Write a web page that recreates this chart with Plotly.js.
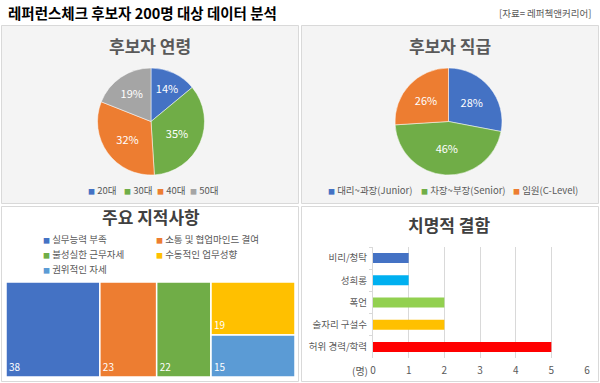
<!DOCTYPE html>
<html>
<head>
<meta charset="utf-8">
<script src="https://cdn.plot.ly/plotly-3.0.1.min.js"></script>
<style>html,body{margin:0;padding:0;background:#fff;}#chart{width:600px;height:383px;}</style>
</head>
<body>
<div id="chart"></div>
<script>
// ---- data ----
const ageLabels = ['20대', '30대', '40대', '50대'];
const ageValues = [14, 35, 32, 19];
const levelLabels = ['대리~과장(Junior)', '차장~부장(Senior)', '임원(C-Level)'];
const levelValues = [28, 46, 26];
const issueLabels = ['실무능력 부족', '소통 및 협업마인드 결여', '불성실한 근무자세', '수동적인 업무성향', '권위적인 자세'];
const issueValues = [38, 23, 22, 19, 15];
const defectLabels = ['비리/청탁', '성희롱', '폭언', '술자리 구설수', '허위 경력/학력'];
const defectValues = [1, 1, 2, 2, 5];
const defectUnit = '(명)';
const mainTitle = '레퍼런스체크 후보자 200명 대상 데이터 분석';
const sourceText = '[자료= 레퍼첵앤커리어]';
const panelTitles = ['후보자 연령', '후보자 직급', '주요 지적사항', '치명적 결함'];

// ---- styles ----
const ageColors = ['#4472C4', '#70AD47', '#ED7D31', '#A5A5A5'];
const levelColors = ['#4472C4', '#70AD47', '#ED7D31'];
const issueColors = ['#4472C4', '#ED7D31', '#70AD47', '#FFC000', '#5B9BD5'];
const defectColors = ['#4472C4', '#00B0F0', '#92D050', '#FFC000', '#FF0000'];
const FONT = '"Noto Sans CJK KR", "Noto Sans", sans-serif';
const W = 600, H = 383;
const px = x => x / W;
const py = y => 1 - y / H;

// ---- traces ----
const pieAge = {
  type: 'pie', labels: ageLabels, values: ageValues, sort: false,
  direction: 'clockwise', rotation: 0,
  marker: {colors: ageColors, line: {color: '#ffffff', width: 0.5}},
  textinfo: 'percent', textposition: 'inside', insidetextorientation: 'horizontal',
  textfont: {color: '#ffffff', size: 11, family: FONT},
  domain: {x: [px(97.5), px(204.5)], y: [py(175), py(68)]},
  showlegend: false, hoverinfo: 'label+percent'
};
const pieLevel = {
  type: 'pie', labels: levelLabels, values: levelValues, sort: false,
  direction: 'clockwise', rotation: 0,
  marker: {colors: levelColors, line: {color: '#ffffff', width: 0.5}},
  textinfo: 'percent', textposition: 'inside', insidetextorientation: 'horizontal',
  textfont: {color: '#ffffff', size: 11, family: FONT},
  domain: {x: [px(395), px(502)], y: [py(175), py(68)]},
  showlegend: false, hoverinfo: 'label+percent'
};

// treemap: first three items side by side, last two stacked in a final column
const tmIds = ['i0', 'i1', 'i2', 'g', 'i3', 'i4'];
const tmLabels = [issueLabels[0], issueLabels[1], issueLabels[2], ' ', issueLabels[3], issueLabels[4]];
const tmParents = ['', '', '', '', 'g', 'g'];
const tmValues = [issueValues[0], issueValues[1], issueValues[2], 0, issueValues[3], issueValues[4]];
const tmColors = [issueColors[0], issueColors[1], issueColors[2], '#ffffff', issueColors[3], issueColors[4]];
const tmText = [String(issueValues[0]), String(issueValues[1]), String(issueValues[2]), '', String(issueValues[3]), String(issueValues[4])];
const treemap = {
  type: 'treemap', ids: tmIds, labels: tmLabels, parents: tmParents, values: tmValues,
  text: tmText, texttemplate: '%{text}', textposition: 'bottom left',
  textfont: {color: '#ffffff', size: 10, family: FONT},
  sort: false, branchvalues: 'remainder',
  tiling: {packing: 'slice-dice', pad: 0},
  pathbar: {visible: false},
  marker: {colors: tmColors, line: {color: '#ffffff', width: 1.5}, pad: {t: 0, l: 0, r: 0, b: 0}},
  domain: {x: [px(6), px(295)], y: [py(377), py(282)]},
  hoverinfo: 'label+value'
};

const bars = {
  type: 'bar', orientation: 'h', y: defectLabels, x: defectValues,
  marker: {color: defectColors}, width: 0.45,
  xaxis: 'x', yaxis: 'y', showlegend: false, hoverinfo: 'y+x'
};

// ---- legends drawn as annotations ----
function legendItem(label, color, x, y) {
  return {
    xref: 'paper', yref: 'paper', x: px(x), y: py(y), xanchor: 'left', yanchor: 'middle',
    showarrow: false, align: 'left',
    text: '<span style="color:' + color + ';font-size:7px">■</span> ' + label,
    font: {family: FONT, size: 9.5, color: '#595959'}
  };
}
const ageLegX = [86, 122, 155, 188];
const levelLegX = [326, 419, 511];
const issueLegPos = [[41, 239], [154, 239], [41, 254], [154, 254], [41, 269]];

const annotations = [];
ageLabels.forEach((l, i) => annotations.push(legendItem(l, ageColors[i], ageLegX[i], 190)));
levelLabels.forEach((l, i) => annotations.push(legendItem(l, levelColors[i], levelLegX[i], 190)));
issueLabels.forEach((l, i) => annotations.push(legendItem(l, issueColors[i], issueLegPos[i][0], issueLegPos[i][1])));

function titleAnn(text, x, y, color) {
  return {xref: 'paper', yref: 'paper', x: px(x), y: py(y), xanchor: 'center', yanchor: 'middle',
    showarrow: false, text: '<b>' + text + '</b>', font: {family: FONT, size: 17, color: color}};
}
annotations.push(titleAnn(panelTitles[0], 150, 45.5, '#595959'));
annotations.push(titleAnn(panelTitles[1], 450, 45.5, '#595959'));
annotations.push(titleAnn(panelTitles[2], 151, 216.5, '#404040'));
annotations.push(titleAnn(panelTitles[3], 449, 224, '#404040'));
annotations.push({xref: 'paper', yref: 'paper', x: px(6), y: py(12.5), xanchor: 'left', yanchor: 'middle',
  showarrow: false, text: '<b>' + mainTitle + '</b>', font: {family: FONT, size: 14.5, color: '#000000'}});
annotations.push({xref: 'paper', yref: 'paper', x: px(593), y: py(13), xanchor: 'right', yanchor: 'middle',
  showarrow: false, text: sourceText, font: {family: FONT, size: 9.5, color: '#595959'}});
annotations.push({xref: 'paper', yref: 'paper', x: px(360), y: py(370), xanchor: 'center', yanchor: 'middle',
  showarrow: false, text: defectUnit, font: {family: FONT, size: 10, color: '#595959'}});

// ---- panels ----
function rect(x0, y0, x1, y1, fill) {
  return {type: 'rect', xref: 'paper', yref: 'paper', x0: px(x0), x1: px(x1), y0: py(y1), y1: py(y0),
    fillcolor: fill, line: {color: '#d9d9d9', width: 1}, layer: 'below'};
}
const shapes = [
  rect(1.5, 25.5, 298.5, 203.5, '#f4f4f4'),
  rect(301.5, 25.5, 598.5, 203.5, '#f4f4f4'),
  rect(1.5, 206.5, 298.5, 381.5, '#ffffff'),
  rect(301.5, 206.5, 598.5, 381.5, '#ffffff')
];

const layout = {
  width: W, height: H, margin: {l: 0, r: 0, t: 0, b: 0},
  paper_bgcolor: '#ffffff', plot_bgcolor: 'rgba(0,0,0,0)',
  font: {family: FONT, color: '#595959'},
  showlegend: false,
  xaxis: {domain: [px(373), px(587)], range: [0, 6], dtick: 1, showgrid: true, gridcolor: '#d9d9d9',
    gridwidth: 1, zeroline: false, showline: false, ticks: '', ticklabelstandoff: 5,
    tickfont: {size: 10, color: '#595959', family: FONT}, anchor: 'y', fixedrange: true},
  yaxis: {domain: [py(358), py(247)], autorange: 'reversed', type: 'category',
    showline: true, linecolor: '#d9d9d9', ticks: 'outside', tickson: 'boundaries', ticklen: 3,
    tickcolor: '#d9d9d9', showgrid: false, ticklabelstandoff: 3,
    tickfont: {size: 9.5, color: '#595959', family: FONT}, anchor: 'x', fixedrange: true},
  shapes: shapes,
  annotations: annotations
};

Plotly.newPlot('chart', [pieAge, pieLevel, treemap, bars], layout, {displayModeBar: false, staticPlot: true});
</script>
</body>
</html>
